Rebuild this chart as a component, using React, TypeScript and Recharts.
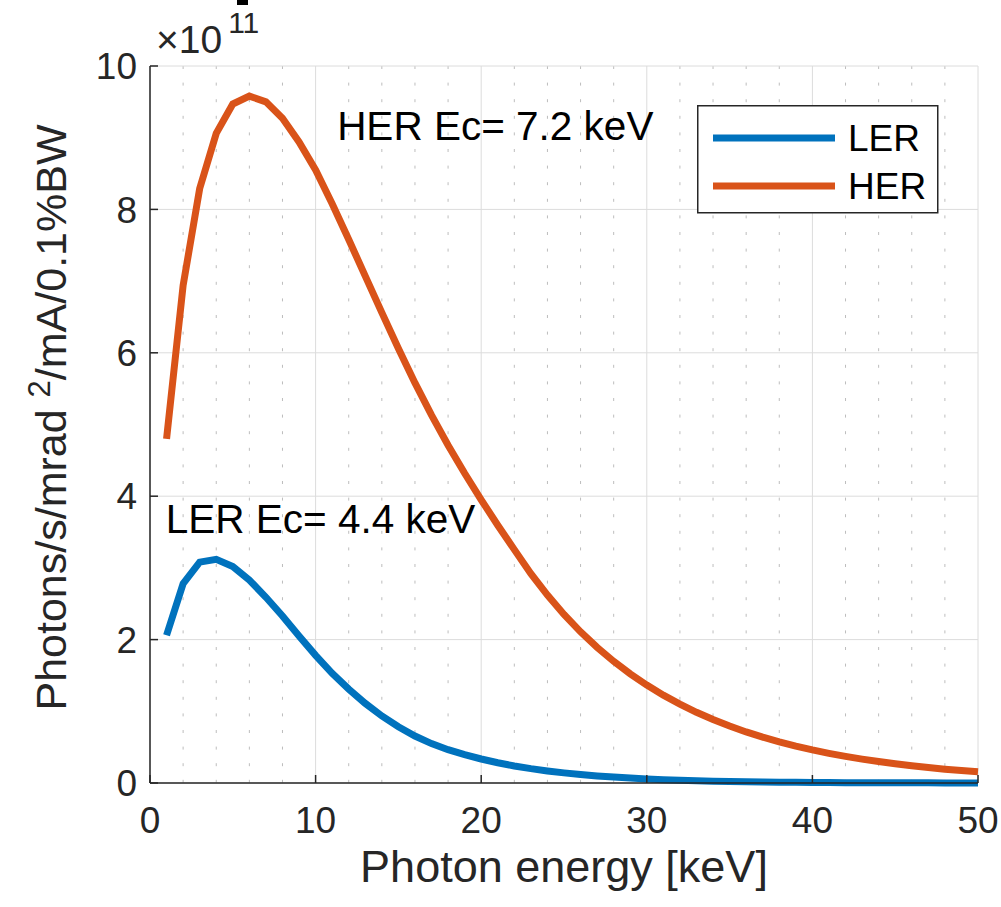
import React from 'react';
import { LineChart, Line, XAxis, YAxis, CartesianGrid, ReferenceDot, Legend } from 'recharts';

// ---- data ----
const energyKeV = [1, 2, 3, 4, 5, 6, 7, 8, 9, 10, 11, 12, 13, 14, 15, 16, 17, 18, 19, 20, 21, 22, 23, 24, 25, 26, 27, 28, 29, 30, 31, 32, 33, 34, 35, 36, 37, 38, 39, 40, 41, 42, 43, 44, 45, 46, 47, 48, 49, 50];
const lerFlux = [2.06, 2.78, 3.08, 3.12, 3.02, 2.83, 2.59, 2.33, 2.05, 1.78, 1.53, 1.31, 1.11, 0.935, 0.785, 0.655, 0.55, 0.465, 0.395, 0.335, 0.283, 0.238, 0.2, 0.168, 0.141, 0.118, 0.099, 0.083, 0.069, 0.057, 0.047, 0.039, 0.032, 0.026, 0.021, 0.017, 0.014, 0.012, 0.0095, 0.0078, 0.0064, 0.0052, 0.0042, 0.0034, 0.0028, 0.0023, 0.0019, 0.0015, 0.0012, 0.001];
const herFlux = [4.8, 6.94, 8.29, 9.06, 9.47, 9.58, 9.5, 9.27, 8.94, 8.55, 8.08, 7.58, 7.07, 6.56, 6.06, 5.58, 5.13, 4.71, 4.32, 3.95, 3.595, 3.255, 2.92, 2.62, 2.35, 2.108, 1.891, 1.697, 1.522, 1.366, 1.225, 1.1, 0.986, 0.885, 0.794, 0.712, 0.639, 0.573, 0.514, 0.461, 0.414, 0.371, 0.333, 0.299, 0.268, 0.24, 0.216, 0.193, 0.174, 0.156];
const xTicks = [0, 10, 20, 30, 40, 50];
const yTicks = [0, 2, 4, 6, 8, 10];
const xMinorTicks = [2, 4, 6, 8, 12, 14, 16, 18, 22, 24, 26, 28, 32, 34, 36, 38, 42, 44, 46, 48];
const seriesNames = ['LER', 'HER'];
const seriesColors = ['#0072BD', '#D95319'];
const annotations = [
  { x: 11.3, y: 9.17, text: 'HER Ec= 7.2 keV' },
  { x: 0.95, y: 3.69, text: 'LER Ec= 4.4 keV' },
];
const exponentLabel = { base: '\u00d710', power: '11' };
const xLabel = 'Photon energy [keV]';
const yLabelParts = ['Photons/s/mrad ', '2', '/mA/0.1%BW'];

const data = energyKeV.map((e, i) => ({ energy: e, LER: lerFlux[i], HER: herFlux[i] }));

const FONT = '"Liberation Sans", Arial, Helvetica, sans-serif';
const AXIS = '#262626';

const LegendBox = () => (
  <svg width={242} height={109} style={{ display: 'block' }}>
    <rect x={0.75} y={0.75} width={240} height={107} fill="#fff" stroke={AXIS} strokeWidth={1.5} />
    {seriesNames.map((n, i) => (
      <g key={n}>
        <line x1={16} x2={138} y1={33 + i * 48} y2={33 + i * 48} stroke={seriesColors[i]} strokeWidth={7} />
        <text x={151} y={33 + i * 48} dy="0.36em" fontSize={37} fontFamily={FONT} fill="#000">{n}</text>
      </g>
    ))}
  </svg>
);

export default function App() {
  return (
    <div style={{ position: 'absolute', left: 0, top: 0, background: '#fff' }}>
      <LineChart width={1001} height={907} data={data} margin={{ top: 66, right: 23, bottom: 64, left: 90 }}>
        <CartesianGrid
          horizontal={false}
          stroke="#bdbdbd"
          strokeDasharray="3 13.6"
          verticalCoordinatesGenerator={(p: any) => {
            const s = p?.xAxis?.scale;
            return xMinorTicks.map((t) => (typeof s === 'function' ? s(t) : p.offset.left + (t / 50) * p.offset.width));
          }}
        />
        <CartesianGrid stroke="#dcdcdc" strokeWidth={1} />
        <XAxis
          dataKey="energy"
          type="number"
          domain={[0, 50]}
          ticks={xTicks}
          interval={0}
          height={60}
          tickSize={-8}
          tickMargin={32}
          stroke={AXIS}
          axisLine={{ stroke: AXIS, strokeWidth: 1.5 }}
          tickLine={{ stroke: AXIS, strokeWidth: 1.5 }}
          tick={{ fill: AXIS, fontSize: 37, fontFamily: FONT }}
          label={(props: any) => {
            const vb = props.viewBox;
            return (
              <text x={vb.x + vb.width / 2} y={882} textAnchor="middle" fontSize={45} fontFamily={FONT} fill={AXIS}>
                {xLabel}
              </text>
            );
          }}
        />
        <XAxis
          xAxisId="top"
          orientation="top"
          type="number"
          domain={[0, 50]}
          ticks={xTicks}
          interval={0}
          height={0}
          tickSize={-8}
          tickFormatter={() => ''}
          axisLine={{ stroke: AXIS, strokeWidth: 1.5 }}
          tickLine={{ stroke: AXIS, strokeWidth: 1.5 }}
        />
        <YAxis
          type="number"
          domain={[0, 10]}
          ticks={yTicks}
          interval={0}
          width={60}
          tickSize={-8}
          tickMargin={21}
          axisLine={{ stroke: AXIS, strokeWidth: 1.5 }}
          tickLine={{ stroke: AXIS, strokeWidth: 1.5 }}
          tick={{ fill: AXIS, fontSize: 37, fontFamily: FONT }}
          label={(props: any) => {
            const vb = props.viewBox;
            const cx = 66;
            const cy = vb.y + vb.height / 2 - 7;
            return (
              <text x={cx} y={cy} transform={`rotate(-90, ${cx}, ${cy})`} textAnchor="middle" fontSize={43} fontFamily={FONT} fill={AXIS}>
                <tspan>{yLabelParts[0]}</tspan>
                <tspan dy={-16} fontSize={31}>{yLabelParts[1]}</tspan>
                <tspan dy={16}>{yLabelParts[2]}</tspan>
              </text>
            );
          }}
        />
        <YAxis
          yAxisId="right"
          orientation="right"
          type="number"
          domain={[0, 10]}
          ticks={yTicks}
          interval={0}
          width={0}
          tickSize={-8}
          tickFormatter={() => ''}
          axisLine={{ stroke: AXIS, strokeWidth: 1.5 }}
          tickLine={{ stroke: AXIS, strokeWidth: 1.5 }}
        />
        {seriesNames.map((n, i) => (
          <Line key={n} dataKey={n} name={n} type="linear" stroke={seriesColors[i]} strokeWidth={7} dot={false} activeDot={false} isAnimationActive={false} />
        ))}
        {annotations.map((a) => (
          <ReferenceDot
            key={a.text}
            x={a.x}
            y={a.y}
            r={0}
            ifOverflow="visible"
            fill="none"
            stroke="none"
            label={(props: any) => {
              const vb = props.viewBox;
              return (
                <text x={vb.x} y={vb.y} dy="0.36em" textAnchor="start" fontSize={40.5} fontFamily={FONT} fill="#000">
                  {a.text}
                </text>
              );
            }}
          />
        ))}
        <ReferenceDot
          x={0}
          y={10}
          r={0}
          ifOverflow="visible"
          fill="none"
          stroke="none"
          label={(props: any) => {
            const vb = props.viewBox;
            return (
              <g>
                <text x={vb.x + 6} y={vb.y - 13} textAnchor="start" fontSize={39} fontFamily={FONT} fill={AXIS}>
                  <tspan>{exponentLabel.base}</tspan>
                  <tspan dx={6} dy={-20} fontSize={30}>{exponentLabel.power}</tspan>
                </text>
                <rect x={vb.x + 87} y={0} width={11} height={5} fill="#000" />
              </g>
            );
          }}
        />
        <Legend
          layout="vertical"
          align="center"
          verticalAlign="middle"
          wrapperStyle={{ position: 'absolute', left: 697, top: 105, width: 242, height: 109 }}
          content={() => <LegendBox />}
        />
      </LineChart>
    </div>
  );
}
